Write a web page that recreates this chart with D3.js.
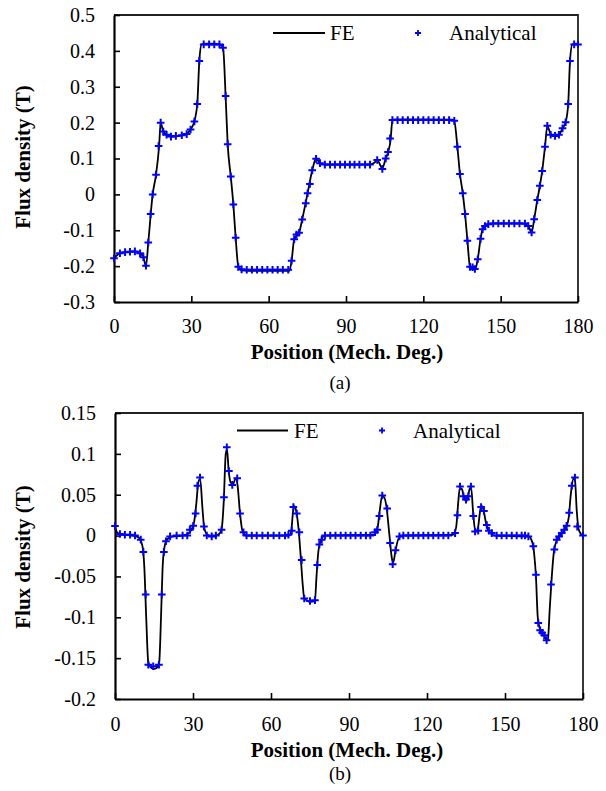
<!DOCTYPE html>
<html>
<head>
<meta charset="utf-8">
<script src="https://cdn.jsdelivr.net/npm/d3@7"></script>
<style>
  body { margin: 0; background: #fff; }
  svg { display: block; }
</style>
</head>
<body>
<svg id="chart" width="606" height="791"></svg>
<script>
// ---------------- DATA ----------------
// Chart (a)
const aFE_deg = [0,2,5,8,10,11.5,12.4,13.3,15,16.3,17.5,18.1,19,20.5,22,24,26,28,29.7,31,32.3,33.1,34,36,39,41,42.3,43.3,44.1,45.3,46.3,47.2,48.2,49.5,52,60,68,68.9,69.9,71.8,73,75.1,76.9,78.4,80,82,90,99,101,102.1,104.1,105.4,106.4,107.3,108,109,120,131,132,133.2,134.2,135.3,136.2,137.1,138.1,139.5,140.2,141.1,142.2,143,144,145.2,147,158,160.7,162,163,164.2,165.2,166.1,167.2,168.1,169.4,171,172.6,174,175.2,176.2,176.9,177.8,180];
const aFE_val = [-0.178,-0.165,-0.16,-0.159,-0.163,-0.178,-0.2,-0.134,0,0.055,0.135,0.2,0.178,0.166,0.161,0.162,0.164,0.168,0.181,0.2,0.252,0.372,0.418,0.42,0.42,0.418,0.409,0.274,0.14,0.05,-0.028,-0.121,-0.2,-0.212,-0.213,-0.213,-0.213,-0.185,-0.125,-0.107,-0.07,0.003,0.067,0.1,0.086,0.083,0.083,0.083,0.088,0.096,0.073,0.1,0.119,0.152,0.207,0.209,0.209,0.208,0.205,0.133,0.057,0.003,-0.055,-0.129,-0.202,-0.209,-0.207,-0.181,-0.124,-0.097,-0.088,-0.083,-0.081,-0.081,-0.088,-0.106,-0.069,-0.016,0.024,0.065,0.133,0.191,0.168,0.163,0.166,0.184,0.201,0.252,0.372,0.418,0.42];

const aAN_deg = [0,2.3,4.3,6.2,8.1,10.1,11.4,12.4,13.3,14.2,15,16.3,17.3,18.1,19.1,20.4,22.1,24,26.3,28.2,29.7,31.2,32.3,33.1,34.8,36.9,38.9,40.9,42.3,43.3,44.1,45.3,46.3,47.2,48.2,49.5,51.5,53.5,55.5,57.5,59.5,61.5,63.5,65.5,67.6,68.9,69.9,70.8,71.8,73,74.4,75.1,76,76.9,78.4,79.9,81.8,83.8,85.7,87.7,89.6,91.5,93.3,95.2,97.4,99.3,102.1,104.1,105.4,106.3,107.1,108,110,112,114,116,118,120,122,124,126,128,130,132,133.2,134.2,135.3,136.2,137.1,138.1,139.1,140,141.1,142.2,143,143.9,145.2,147.1,149.1,151.2,153.2,155.3,157.3,159.4,160.7,162,163,164.2,165.2,166.1,167.2,168.1,169.4,171.1,172.6,174,175.2,176.2,176.9,178.5,180];
const aAN_val = [-0.178,-0.164,-0.161,-0.16,-0.159,-0.164,-0.175,-0.199,-0.134,-0.055,0,0.055,0.135,0.2,0.175,0.166,0.161,0.163,0.165,0.168,0.181,0.203,0.252,0.372,0.418,0.418,0.418,0.418,0.409,0.274,0.14,0.05,-0.028,-0.121,-0.202,-0.209,-0.21,-0.21,-0.21,-0.21,-0.21,-0.21,-0.21,-0.21,-0.21,-0.185,-0.125,-0.112,-0.107,-0.07,-0.025,0.003,0.029,0.067,0.099,0.087,0.083,0.083,0.083,0.083,0.083,0.083,0.083,0.083,0.083,0.083,0.096,0.071,0.1,0.118,0.156,0.207,0.207,0.207,0.207,0.207,0.207,0.207,0.207,0.207,0.207,0.207,0.207,0.205,0.133,0.057,0.003,-0.055,-0.129,-0.202,-0.203,-0.208,-0.181,-0.124,-0.097,-0.088,-0.083,-0.081,-0.081,-0.081,-0.081,-0.081,-0.081,-0.081,-0.088,-0.106,-0.069,-0.016,0.024,0.065,0.133,0.191,0.166,0.163,0.166,0.184,0.201,0.252,0.372,0.418,0.418];

// Chart (b)
const bFE_deg = [0,1,3,7,9,10.5,11.3,12,12.8,14,15,16,17,17.7,18.3,19,20,22,26,28,29.5,30.5,31.3,32.2,32.8,33.6,34.3,35.5,37.5,40,41,41.8,42.6,43.1,43.7,44.5,45.4,46.4,47.2,48,49,50.5,67,67.8,68.5,69,69.7,70.6,71.3,72.2,72.8,75,76.9,77.5,78.2,79.2,80.8,99.5,101,101.8,102.7,103.5,104.5,105.5,106.5,107,107.8,109,110.5,130,131.2,132,132.6,133.4,134.3,135,135.7,136.5,137,137.7,138.6,139.5,140.6,141.2,142,142.9,144,146,159,160.5,161.3,161.9,162.6,163.5,165,166,166.5,167.2,168,168.8,170,172,173.5,174.5,175.3,176.3,176.9,177.6,178.3,179.2,180];
const bFE_val = [0.01,0.003,0.001,0,-0.002,-0.012,-0.04,-0.1,-0.155,-0.162,-0.163,-0.162,-0.155,-0.1,-0.04,-0.015,-0.005,-0.001,0,0.002,0.008,0.018,0.04,0.068,0.068,0.035,0.01,0.001,-0.001,0.002,0.008,0.04,0.1,0.105,0.08,0.065,0.063,0.07,0.06,0.03,0.006,0,0,0.006,0.03,0.036,0.03,0.008,-0.02,-0.06,-0.077,-0.081,-0.08,-0.05,-0.02,-0.006,0,0.001,0.01,0.03,0.048,0.047,0.033,0.002,-0.028,-0.033,-0.02,-0.004,0,0.001,0.01,0.04,0.058,0.057,0.046,0.042,0.046,0.058,0.058,0.03,0.005,0.008,0.033,0.036,0.027,0.012,0.004,0,-0.001,-0.008,-0.025,-0.05,-0.1,-0.115,-0.122,-0.128,-0.127,-0.09,-0.05,-0.02,-0.005,0.003,0.01,0.022,0.05,0.07,0.068,0.03,0.008,0.002,0];

const bAN_deg = [0,1.9,3.8,5.8,7.7,9.9,10.9,11.8,12.8,14.7,16.9,18,18.8,19.6,21.2,23.7,26,27.8,28.8,30.1,31,31.7,32.7,34.2,35.3,37.2,38.8,41,41.9,43,43.8,45.1,47,48.1,49.4,50.6,52.6,54.5,56.7,58.8,61,63.2,65.4,66.7,68,68.6,69.9,70.9,71.8,72.8,75,76.9,77.8,78.6,79.5,80.8,82.8,84.8,86.8,88.7,90.6,92.5,94.5,96.5,98.2,100,100.9,101.7,102.8,104.7,105.8,106.8,107.9,109.4,110.9,112.8,114.7,116.7,118.6,120.5,122.4,124.4,126.3,128.2,130.8,131.7,132.7,134,135,135.9,136.9,137.8,138.5,139.7,140.8,141.9,143,143.8,144.9,146.8,148.7,150.6,152.6,154.5,156.4,157.7,159,160.9,161.9,162.8,163.5,164.3,165.1,166,167.7,169,169.9,170.8,171.8,172.8,173.7,174.7,175.7,176.9,177.8,180];
const bAN_val = [0.0117,0.002,0.001,0.001,0,-0.005,-0.02,-0.072,-0.158,-0.16,-0.158,-0.072,-0.02,-0.007,-0.001,0,0,0,0.007,0.012,0.027,0.061,0.071,0.011,0,-0.001,0,0.007,0.047,0.108,0.079,0.062,0.07,0.027,0.004,0,0,0,0,0,0,0,0,0.001,0.006,0.035,0.027,0.004,-0.03,-0.077,-0.08,-0.079,-0.036,-0.011,-0.005,0,0,0,0,0,0,0,0,0,0,0.004,0.007,0.024,0.049,0.033,-0.009,-0.035,-0.018,-0.001,0,0,0,0,0,0,0,0,0,0,0.003,0.025,0.06,0.048,0.044,0.048,0.06,0.024,0.005,0.006,0.035,0.03,0.013,0.006,0.003,0,0,0,0,0,0,0,-0.001,-0.013,-0.048,-0.107,-0.116,-0.119,-0.122,-0.128,-0.06,-0.017,-0.005,-0.001,0.003,0.007,0.012,0.028,0.061,0.071,0.011,0];

const xTicks = [0, 30, 60, 90, 120, 150, 180];
const aYTicks = [-0.3, -0.2, -0.1, 0, 0.1, 0.2, 0.3, 0.4, 0.5];
const bYTicks = [-0.2, -0.15, -0.1, -0.05, 0, 0.05, 0.1, 0.15];
const seriesNames = ["FE", "Analytical"];
const xTitle = "Position (Mech. Deg.)";
const yTitle = "Flux density (T)";
const panelLabels = ["(a)", "(b)"];

// ---------------- DRAWING ----------------
const FONT = "'Liberation Serif', Tinos, 'Times New Roman', Times, 'DejaVu Serif', 'Noto Serif', serif";
const svg = d3.select("#chart");
const fmt = v => {
  if (Math.abs(v) < 1e-9) return "0";
  return String(+v.toFixed(2)).replace("\u2212", "-");
};
const crossPath = r => `M${-r},0H${r}M0,${-r}V${r}`;

function txt(sel, size, bold) {
  return sel.style("font-family", FONT).style("font-size", size + "px")
    .style("font-weight", bold ? "bold" : "normal").style("fill", "#000");
}

function panel(cfg) {
  const g = svg.append("g");
  const x = d3.scaleLinear().domain([0, 180]).range([cfg.left, cfg.right]);
  const y = d3.scaleLinear().domain(cfg.yDomain).range([cfg.bottom, cfg.top]);

  // frame (top and right)
  g.append("path")
    .attr("d", `M${cfg.left},${cfg.top}H${cfg.right}V${cfg.bottom}`)
    .attr("fill", "none").attr("stroke", "#222").attr("stroke-width", 1.8);

  // y axis
  const ya = g.append("g").attr("transform", `translate(${cfg.left},0)`)
    .call(d3.axisLeft(y).tickValues(cfg.yTicks).tickFormat(fmt)
      .tickSizeInner(-6).tickSizeOuter(0).tickPadding(19));
  ya.select(".domain").attr("stroke", "#000").attr("stroke-width", 2.2);
  ya.selectAll(".tick line").attr("stroke", "#000").attr("stroke-width", 1.6);
  txt(ya.selectAll(".tick text"), 20, false);

  // x axis
  const xa = g.append("g").attr("transform", `translate(0,${cfg.bottom})`)
    .call(d3.axisBottom(x).tickValues(xTicks).tickFormat(d3.format("d"))
      .tickSizeInner(-6).tickSizeOuter(0).tickPadding(cfg.xPad));
  xa.select(".domain").attr("stroke", "#000").attr("stroke-width", 2.2);
  xa.selectAll(".tick line").attr("stroke", "#000").attr("stroke-width", 1.6);
  txt(xa.selectAll(".tick text"), 20, false);

  // FE line
  const fe = cfg.feDeg.map((d, i) => [d, cfg.feVal[i]]);
  const line = d3.line().x(d => x(d[0])).y(d => y(d[1])).curve(d3.curveMonotoneX);
  g.append("path").datum(fe).attr("d", line)
    .attr("fill", "none").attr("stroke", "#000").attr("stroke-width", 1.8)
    .attr("stroke-linejoin", "round");

  // Analytical crosses
  const an = cfg.anDeg.map((d, i) => [d, cfg.anVal[i]]);
  g.append("g").selectAll("path").data(an).join("path")
    .attr("transform", d => `translate(${x(d[0])},${y(d[1])})`)
    .attr("d", crossPath(3.8))
    .attr("stroke", "#0000ff").attr("stroke-width", 2).attr("fill", "none");

  // legend
  const lg = g.append("g");
  lg.append("line").attr("x1", cfg.leg.lx1).attr("x2", cfg.leg.lx2)
    .attr("y1", cfg.leg.y).attr("y2", cfg.leg.y)
    .attr("stroke", "#000").attr("stroke-width", 2);
  txt(lg.append("text").attr("x", cfg.leg.fx).attr("y", cfg.leg.y + 7), 21, false)
    .text(seriesNames[0]);
  lg.append("path").attr("transform", `translate(${cfg.leg.cx},${cfg.leg.y})`)
    .attr("d", crossPath(3)).attr("stroke", "#0000ff").attr("stroke-width", 1.8);
  txt(lg.append("text").attr("x", cfg.leg.ax).attr("y", cfg.leg.y + 7), 21, false)
    .text(seriesNames[1]);

  // axis titles
  txt(g.append("text").attr("x", 347).attr("y", cfg.xTitleY)
    .attr("text-anchor", "middle"), 21, true).text(xTitle);
  txt(g.append("text").attr("transform", `translate(30,${cfg.yTitleY}) rotate(-90)`)
    .attr("text-anchor", "middle"), 21, true).text(yTitle);
  txt(g.append("text").attr("x", 340).attr("y", cfg.labelY)
    .attr("text-anchor", "middle"), 19, false).text(cfg.label);
}

panel({
  left: 114, right: 578, top: 15, bottom: 302,
  yDomain: [-0.3, 0.5], yTicks: aYTicks, xPad: 17,
  feDeg: aFE_deg, feVal: aFE_val, anDeg: aAN_deg, anVal: aAN_val,
  leg: { lx1: 273, lx2: 325, y: 33, fx: 330, cx: 418, ax: 449 },
  xTitleY: 359, yTitleY: 157, labelY: 389, label: panelLabels[0]
});

panel({
  left: 115, right: 583, top: 413, bottom: 699,
  yDomain: [-0.2, 0.15], yTicks: bYTicks, xPad: 18,
  feDeg: bFE_deg, feVal: bFE_val, anDeg: bAN_deg, anVal: bAN_val,
  leg: { lx1: 237, lx2: 288, y: 430.5, fx: 294, cx: 382, ax: 413 },
  xTitleY: 757, yTitleY: 557, labelY: 780, label: panelLabels[1]
});
</script>
</body>
</html>
